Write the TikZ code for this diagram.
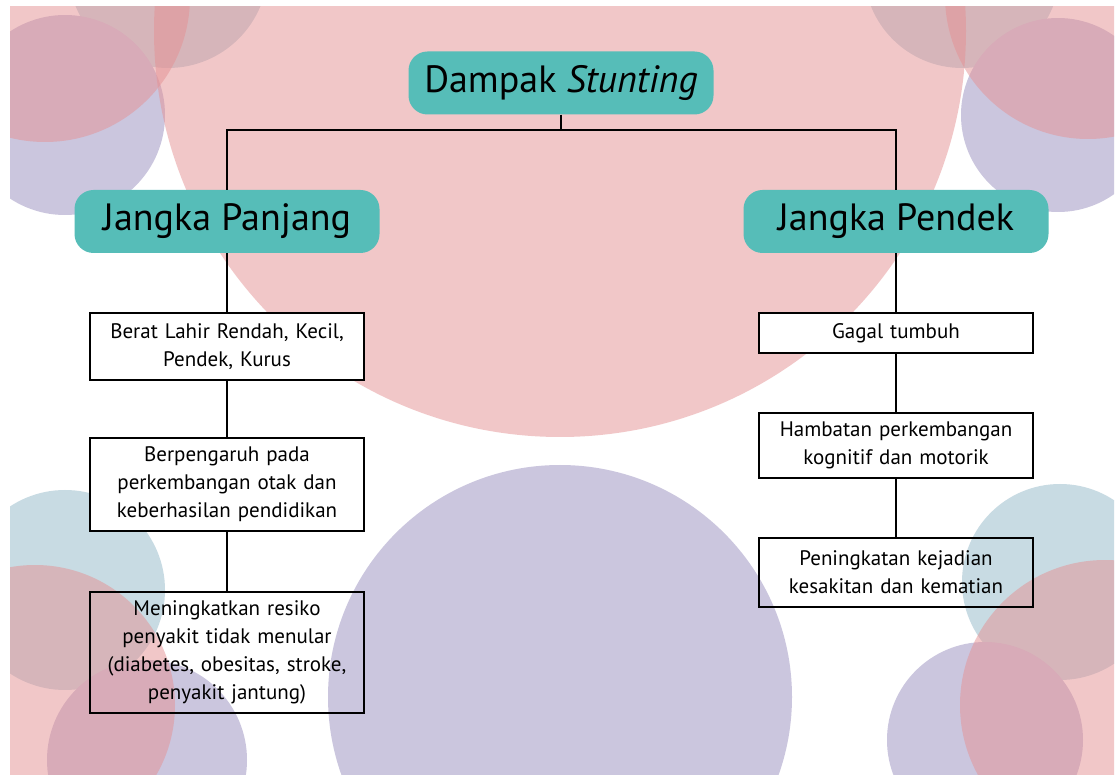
\documentclass[tikz,border=0pt]{standalone}
\usepackage{fontspec}
\setmainfont{PT Sans}
\begin{document}
\begin{tikzpicture}[x=1pt,y=-1pt]
\definecolor{pinkc}{RGB}{229,145,147}
\definecolor{purplec}{RGB}{203,198,222}
\definecolor{bluec}{RGB}{200,219,227}
\definecolor{tealc}{RGB}{86,189,184}
\tikzset{
  pinkdisc/.style={fill=pinkc, fill opacity=0.5},
  purpledisc/.style={fill=purplec},
  bluedisc/.style={fill=bluec},
  headbox/.style={fill=tealc, rounded corners=19pt, minimum width=305pt, minimum height=63pt, inner sep=0pt, font=\fontsize{38}{40}\selectfont},
  itembox/.style={draw=black, line width=1.2pt, minimum width=274pt, text width=270pt, align=center, inner sep=0pt, font=\fontsize{21}{28}\selectfont},
  link/.style={draw=black, line width=1.3pt}
}
\useasboundingbox (0,0) rectangle (1120,775);
\fill[white] (0,0) rectangle (1120,775);
\begin{scope}
  \clip (10,7) rectangle (1114,775);
  % under-layer discs
  \fill[bluedisc] (168,-32) circle (100pt);
  \fill[bluedisc] (962,-30) circle (98pt);
  \fill[purpledisc] (65,115) circle (100pt);
  \fill[purpledisc] (1058,115) circle (97pt);
  \fill[bluedisc] (65,590) circle (100pt);
  \fill[purpledisc] (147,760) circle (100pt);
  \fill[bluedisc] (1060,582) circle (98pt);
  \fill[purpledisc] (985,740) circle (98pt);
  \fill[purpledisc] (560,697) circle (232pt);
  % pink discs on top
  \fill[pinkdisc] (45,-3) circle (145pt);
  \fill[pinkdisc] (1088,-4) circle (143pt);
  \fill[pinkdisc] (560,31) circle (406pt);
  \fill[pinkdisc] (35,705) circle (140pt);
  \fill[pinkdisc] (1105,705) circle (145pt);
\end{scope}

\node[headbox] (title) at (561,83) {Dampak \textit{Stunting}};
\node[headbox] (lp) at (227,221.5) {Jangka Panjang};
\node[headbox] (sp) at (896,221.5) {Jangka Pendek};

\node[itembox, fill=white, minimum height=67pt] (b1) at (227,346.5) {Berat Lahir Rendah, Kecil,\\Pendek, Kurus};
\node[itembox, fill=white, minimum height=93pt] (b2) at (227,484.5) {Berpengaruh pada\\perkembangan otak dan\\keberhasilan pendidikan};
\node[itembox, minimum height=121pt] (b3) at (227,652.5) {Meningkatkan resiko\\penyakit tidak menular\\(diabetes, obesitas, stroke,\\penyakit jantung)};

\node[itembox, fill=white, minimum height=40pt] (r1) at (896,333) {Gagal tumbuh};
\node[itembox, fill=white, minimum height=65pt] (r2) at (896,445.5) {Hambatan perkembangan\\kognitif dan motorik};
\node[itembox, minimum height=69pt] (r3) at (896,572.5) {Peningkatan kejadian\\kesakitan dan kematian};

\coordinate (jn) at (561,130);
\draw[link] (title.south) -- (jn);
\draw[link] (lp.north) |- (jn) -| (sp.north);
\draw[link] (lp.south) -- (b1.north);
\draw[link] (b1.south) -- (b2.north);
\draw[link] (b2.south) -- (b3.north);
\draw[link] (sp.south) -- (r1.north);
\draw[link] (r1.south) -- (r2.north);
\draw[link] (r2.south) -- (r3.north);
\end{tikzpicture}
\end{document}
